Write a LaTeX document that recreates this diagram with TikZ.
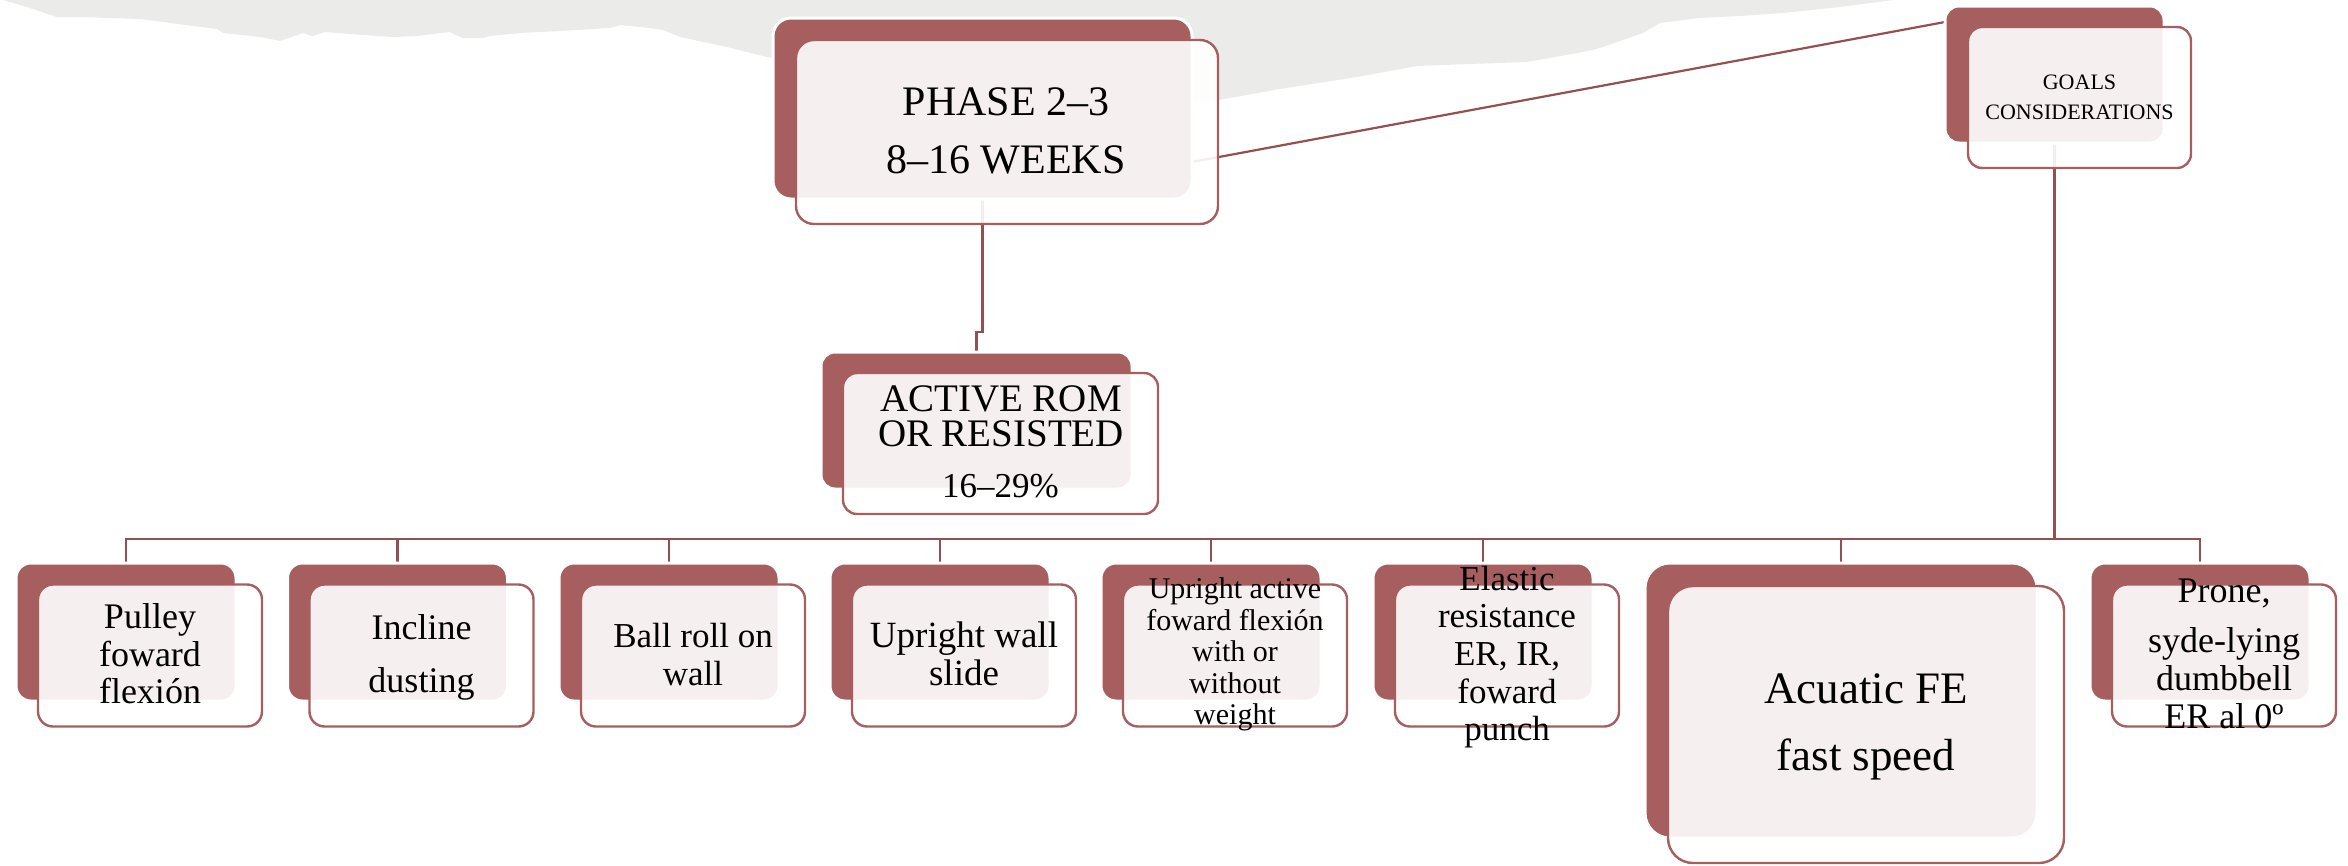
\documentclass[tikz,border=0pt]{standalone}
\usepackage{fontspec}
\setmainfont{Liberation Serif}
\usetikzlibrary{calc}
\definecolor{boxred}{RGB}{166,94,94}
\definecolor{linkred}{RGB}{148,80,80}
\definecolor{paper}{RGB}{235,235,233}
\newcommand\fsz[1]{\fontsize{#1pt}{#1pt}\selectfont}
\pgfdeclarelayer{paperlayer}
\pgfdeclarelayer{links}
\pgfsetlayers{paperlayer,links,main}
\begin{document}
\begin{tikzpicture}[x=1pt,y=-1pt,
  sz/.style 2 args={minimum width=#1pt, minimum height=#2pt},
  backbox/.style={rectangle, fill=boxred, draw=white, line width=3pt,
    inner sep=0pt, outer sep=0pt, rounded corners=#1},
  backbox/.default=15pt,
  frontbox/.style={rectangle, fill=white, fill opacity=0.9, draw=boxred,
    draw opacity=1, line width=2.4pt, inner sep=0pt, outer sep=0pt,
    rounded corners=#1},
  frontbox/.default=15pt,
  conn/.style={draw=linkred, line width=2.2pt},
  txt/.style={anchor=base, inner sep=0pt, outer sep=0pt, text=black}]

\useasboundingbox (0,0) rectangle (2348,865);

% torn paper band along the top edge
\begin{pgfonlayer}{paperlayer}
\fill[paper] (3,0) -- (27,7) -- (57,17) -- (80,17) -- (140,19) -- (217,29)
  -- (223,33) -- (243,35) -- (260,37) -- (280,41) -- (303,33) -- (312,36)
  -- (325,32) -- (350,34) -- (393,37) -- (417,36) -- (450,32) -- (462,38)
  -- (483,38) -- (490,36) -- (520,33) -- (560,31) -- (610,28) -- (620,25)
  -- (650,28) -- (663,30) -- (680,37) -- (727,47) -- (747,52) -- (767,57)
  -- (800,62) -- (900,75) -- (1000,88) -- (1100,96) -- (1192,100)
  -- (1218,100) -- (1230,98) -- (1280,89) -- (1357,77) -- (1417,66)
  -- (1470,64) -- (1527,62) -- (1583,52) -- (1600,48) -- (1623,40)
  -- (1643,33) -- (1660,23) -- (1700,18) -- (1740,16) -- (1783,13)
  -- (1840,7) -- (1893,0) -- cycle;
\end{pgfonlayer}

% top level
\node[backbox=18pt, sz={419}{181}] (backphase) at (982.5,108.5) {};
\node[frontbox=18pt, sz={422}{184}] (frontphase) at (1007,132) {};
\node[backbox=14pt, sz={219}{137}] (backgoals) at (2054.5,74.5) {};
\node[frontbox=14pt, sz={223}{141}] (frontgoals) at (2079.5,97.5) {};
\node[backbox=14pt, sz={311}{137}] (backactive) at (976.5,420.5) {};
\node[frontbox=14pt, sz={315}{141}] (frontactive) at (1000.5,443.5) {};

% exercise boxes
\foreach \n/\cx in {c1/126,c2/397.5,c3/669,c4/940,c5/1211,c6/1483,c8/2200} {
  \node[backbox, sz={220}{138}] (back\n) at (\cx,632) {};
  \node[frontbox, sz={224}{142}] (front\n) at ($(back\n)+(24,23.5)$) {};
}
\node[backbox=25pt, sz={392}{275}] (backc7) at (1841,700.5) {};
\node[frontbox=25pt, sz={396}{277}] (frontc7) at (1866,724.5) {};

% connectors
\coordinate (bus) at (2054.5,539);
\begin{pgfonlayer}{links}
\draw[conn] ($(backphase.south east)+(0,-37)$) -- ($(backgoals.north west)+(0,16)$);
\draw[conn] (backphase.south) -- ++(0,133) -| (backactive.north);
\draw[conn] (backgoals.south) -- (bus);
\foreach \n in {c1,c2,c3,c4,c5,c6,c7,c8}
  \draw[conn] (bus) -| (back\n.north);
\end{pgfonlayer}

% labels
\node[txt, font=\fsz{42}] (ph1) at (1006,115) {PHASE 2–3};
\node[txt, font=\fsz{42}] (ph2) at (1006,173) {8–16 WEEKS};

\node[txt, font=\fsz{22}] (go1) at (2079.5,89) {GOALS};
\node[txt, font=\fsz{22}] (go2) at (2079.5,119) {CONSIDERATIONS};

\node[txt, font=\fsz{39}] (ac1) at (1001,411) {ACTIVE ROM};
\node[txt, font=\fsz{39}] (ac2) at (1001,446) {OR RESISTED};
\node[txt, font=\fsz{35}] (ac3) at (1000.5,497) {16–29\%};

\node[txt, font=\fsz{36}] (p1) at (150,628) {Pulley};
\node[txt, font=\fsz{36}] (p2) at (150,666) {foward};
\node[txt, font=\fsz{36}] (p3) at (150,703) {flexión};

\node[txt, font=\fsz{36}] (i1) at (421.5,639) {Incline};
\node[txt, font=\fsz{36}] (i2) at (421.5,692) {dusting};

\node[txt, font=\fsz{35}] (b1) at (693,647) {Ball roll on};
\node[txt, font=\fsz{35}] (b2) at (693,685) {wall};

\node[txt, font=\fsz{37}] (w1) at (964,647) {Upright wall};
\node[txt, font=\fsz{37}] (w2) at (964,685) {slide};

\node[txt, font=\fsz{30}] (u1) at (1235,598) {Upright active};
\node[txt, font=\fsz{30}] (u2) at (1235,630) {foward flexión};
\node[txt, font=\fsz{30}] (u3) at (1235,661) {with or};
\node[txt, font=\fsz{30}] (u4) at (1235,693) {without};
\node[txt, font=\fsz{30}] (u5) at (1235,724) {weight};

\node[txt, font=\fsz{35}] (e1) at (1507,590) {Elastic};
\node[txt, font=\fsz{35}] (e2) at (1507,627) {resistance};
\node[txt, font=\fsz{35}] (e3) at (1507,665) {ER, IR,};
\node[txt, font=\fsz{35}] (e4) at (1507,703) {foward};
\node[txt, font=\fsz{35}] (e5) at (1507,740) {punch};

\node[txt, font=\fsz{45}] (a1) at (1866,703) {Acuatic FE};
\node[txt, font=\fsz{45}] (a2) at (1866,770) {fast speed};

\node[txt, font=\fsz{36}] (r1) at (2224,602) {Prone,};
\node[txt, font=\fsz{36}] (r2) at (2224,652) {syde-lying};
\node[txt, font=\fsz{36}] (r3) at (2224,690) {dumbbell};
\node[txt, font=\fsz{36}] (r4) at (2224,728) {ER al 0º};
\end{tikzpicture}
\end{document}
